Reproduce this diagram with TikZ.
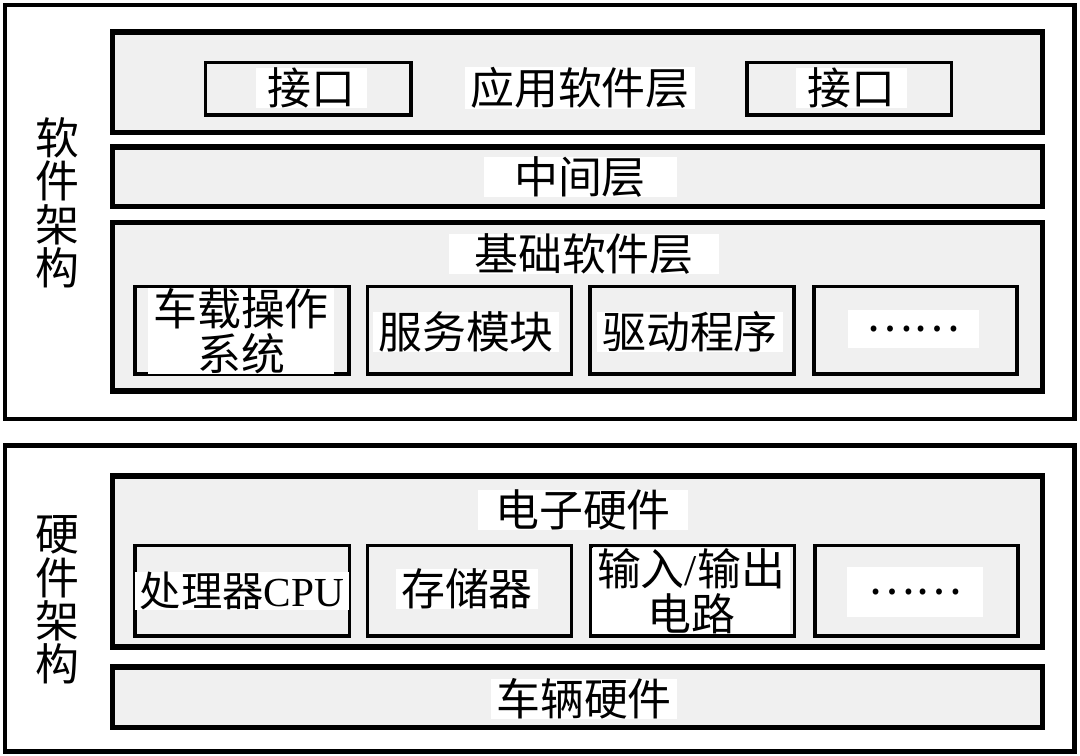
\documentclass[tikz,border=0pt]{standalone}
\usepackage{fontspec}
\setmainfont{Liberation Serif}
\newfontfamily\songti{Noto Sans CJK SC}
\definecolor{layergray}{RGB}{240,240,240}
\begin{document}
\begin{tikzpicture}[x=0.02cm,y=-0.02cm,
    frame/.style={draw,line width=2.3pt,fill=white},
    layer/.style={draw,line width=2.9pt,fill=layergray},
    part/.style={draw,line width=2.2pt,fill=layergray},
    lbl/.style={fill=white,inner xsep=3pt,inner ysep=0pt,align=center,
      font=\songti\fontsize{25}{25.5}\selectfont},
    side/.style={inner sep=0pt,align=center,
      font=\songti\fontsize{25}{24.7}\selectfont}]
    \useasboundingbox (0,0) rectangle (1080,756);
    % software architecture
    \draw[frame] (5,5) rectangle (1074.5,419);
    \draw[layer] (112.5,32) rectangle (1042.5,132.5);
    \draw[part] (205.5,62.5) rectangle (411,115);
    \draw[part] (747,62.5) rectangle (951.5,115);
    \draw[layer] (112.5,147) rectangle (1042.5,206.5);
    \draw[layer] (112.5,222.5) rectangle (1042.5,391);
    \draw[part] (135,286.5) rectangle (349,374);
    \draw[part] (367.5,286.5) rectangle (571.5,374);
    \draw[part] (590,286.5) rectangle (794,374);
    \draw[part] (814,286.5) rectangle (1017,374);
    \node[side] (sw) at (57,203) {软\\件\\架\\构};
    \node[lbl,minimum width=111*0.02cm] (ifl) at (311,88) {接口};
    \node[lbl,minimum width=111*0.02cm] (ifr) at (851,88) {接口};
    \node[lbl,minimum width=230*0.02cm] (app) at (580,88) {应用软件层};
    \node[lbl,minimum width=193*0.02cm] (mid) at (580,177) {中间层};
    \node[lbl,minimum width=270*0.02cm] (base) at (584,254) {基础软件层};
    \node[lbl,minimum width=184*0.02cm] (os) at (241,331) {车载操作\\系统};
    \node[lbl] (svc) at (466,332) {服务模块};
    \node[lbl] (drv) at (690,332) {驱动程序};
    \node[lbl,minimum width=131*0.02cm,minimum height=38*0.02cm] (more1) at (913,329) {……};
    % hardware architecture
    \draw[frame] (5,445.5) rectangle (1074.5,751.5);
    \draw[layer] (112.5,476) rectangle (1042.5,647);
    \draw[part] (135,545.5) rectangle (349.5,636);
    \draw[part] (367.5,545.5) rectangle (571.5,636);
    \draw[part] (591,545.5) rectangle (794.5,636);
    \draw[part] (815,545.5) rectangle (1018,636);
    \draw[layer] (112.5,667) rectangle (1042.5,727.5);
    \node[side] (hw) at (57,600) {硬\\件\\架\\构};
    \node[lbl,minimum width=210*0.02cm] (elec) at (583,510) {电子硬件};
    \node[lbl,font=\songti\fontsize{23.5}{25.5}\selectfont] (cpu) at (242,591) {处理器{\rmfamily CPU}};
    \node[lbl] (mem) at (467,589) {存储器};
    \node[lbl] (io) at (691,591) {输入{\rmfamily /}输出\\电路};
    \node[lbl,minimum width=136*0.02cm,minimum height=50*0.02cm] (more2) at (915,592) {……};
    \node[lbl] (veh) at (584,699) {车辆硬件};
\end{tikzpicture}
\end{document}
